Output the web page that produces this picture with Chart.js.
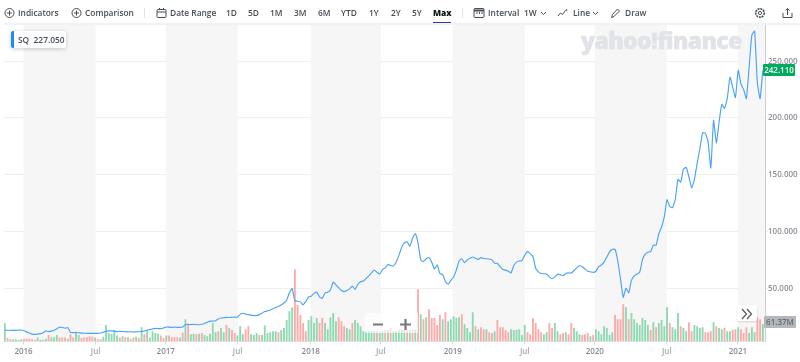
<!DOCTYPE html>
<html lang="en">
<head>
    <meta charset="UTF-8">
    <title>SQ - Yahoo Finance chart</title>
    <script src="https://cdn.jsdelivr.net/npm/chart.js@4.4.8/dist/chart.umd.min.js"></script>
    <style>
        html, body { margin: 0; padding: 0; background: #fff; overflow: hidden; }
        #wrap { position: relative; width: 800px; height: 362px; font-family: "Open Sans", sans-serif; color: #464e56; }
        #mainChart { position: absolute; left: 0; top: 0; }
        .tb { position: absolute; top: 7px; font-size: 8.4px; line-height: 12px; font-weight: 600; white-space: nowrap; }
        .tb.on { font-weight: 800; color: #101518; }
        .ic { position: absolute; top: 7px; }
        .sep { position: absolute; top: 8px; width: 1px; height: 10px; background: #e0e4e9; }
        #toolLine { position: absolute; left: 4px; right: 0; top: 23px; height: 2px; background: #f0f3f5; }
        #maxLine { position: absolute; left: 433px; top: 22px; width: 18px; height: 2px; background: #2a3f9d; }
        #quote { position: absolute; left: 11px; top: 31px; width: 55px; height: 17px; background: #fff; box-shadow: 0 1px 4px rgba(0,0,0,.2); border-radius: 2px; font-size: 8.4px; line-height: 17px; font-weight: 600; white-space: nowrap; }
        #quote i { position: absolute; left: 0; top: 0; width: 3px; height: 17px; background: #1e8cf5; border-radius: 2px 0 0 2px; }
        #quote span { position: absolute; left: 7px; }
        #logo { position: absolute; left: 581px; top: 24px; font-size: 23px; line-height: 32px; font-weight: 800; color: #e1e3e8; -webkit-text-stroke: .5px #e1e3e8; letter-spacing: -.6px; white-space: nowrap; }
        #lastTag { position: absolute; left: 763px; top: 64px; width: 32px; height: 12px; background: #00ab5e; color: #fff; font-size: 8px; line-height: 12px; font-weight: 600; text-align: center; border-radius: 1px; }
        #volTag { position: absolute; left: 764px; top: 316px; width: 32px; height: 12px; background: #b4b7bc; color: #666b72; font-size: 8px; line-height: 12px; font-weight: 600; text-align: center; border-radius: 1px; }
        #zoomBox { position: absolute; left: 365px; top: 313px; width: 53px; height: 20px; background: rgba(255,255,255,.62); }
        #zoomBox svg { position: absolute; left: 8px; top: 3px; }
        #nextBtn { position: absolute; left: 737px; top: 305px; width: 20px; height: 16px; background: #fff; box-shadow: 0 1px 2px rgba(0,0,0,.15); border-radius: 2px; }
    </style>
</head>
<body>
<div id="wrap">
    <canvas id="mainChart" width="800" height="362"></canvas>

    <!-- toolbar -->
    <svg class="ic" style="left:4px" width="11" height="12" viewBox="0 0 11 12" fill="none" stroke="#464e56"><circle cx="5.5" cy="6" r="4.5"/><path d="M3 6h5M5.5 3.5v5"/></svg>
    <div class="tb" style="left:18px">Indicators</div>
    <svg class="ic" style="left:71px" width="11" height="12" viewBox="0 0 11 12" fill="none" stroke="#464e56"><circle cx="5.5" cy="6" r="4.5"/><path d="M3 6h5M5.5 3.5v5"/></svg>
    <div class="tb" style="left:85px">Comparison</div>
    <div class="sep" style="left:144px"></div>
    <svg class="ic" style="left:156px" width="11" height="12" viewBox="0 0 11 12" fill="none" stroke="#464e56"><rect x="1" y="2.5" width="9" height="8" rx="1"/><path d="M1 5h9M3.5 1v2M7.5 1v2"/></svg>
    <div class="tb" style="left:170px">Date Range</div>
    <div class="tb" style="left:226px">1D</div>
    <div class="tb" style="left:248px">5D</div>
    <div class="tb" style="left:270px">1M</div>
    <div class="tb" style="left:294px">3M</div>
    <div class="tb" style="left:318px">6M</div>
    <div class="tb" style="left:341px">YTD</div>
    <div class="tb" style="left:369px">1Y</div>
    <div class="tb" style="left:391px">2Y</div>
    <div class="tb" style="left:412px">5Y</div>
    <div class="tb on" style="left:433px">Max</div>
    <div id="maxLine"></div>
    <div class="sep" style="left:462px"></div>
    <svg class="ic" style="left:473px" width="12" height="12" viewBox="0 0 12 12" fill="none" stroke="#464e56"><rect x="1" y="1.5" width="10" height="9" rx="1"/><path d="M1 3.5h10" stroke-width="2"/><path d="M4 5v2M6.5 5v2M9 5v2"/></svg>
    <div class="tb" style="left:488px">Interval</div>
    <div class="tb" style="left:524px">1W</div>
    <svg class="ic" style="left:540px" width="7" height="12" viewBox="0 0 7 12" fill="none" stroke="#464e56"><path d="M1 5l2.5 2.5L6 5"/></svg>
    <svg class="ic" style="left:557px" width="11" height="12" viewBox="0 0 11 12" fill="none" stroke="#464e56"><path d="M1 9l2.5-3 2 1.5 3-4"/><circle cx="9.5" cy="3" r=".5"/></svg>
    <div class="tb" style="left:573px">Line</div>
    <svg class="ic" style="left:592px" width="7" height="12" viewBox="0 0 7 12" fill="none" stroke="#464e56"><path d="M1 5l2.5 2.5L6 5"/></svg>
    <svg class="ic" style="left:610px" width="11" height="12" viewBox="0 0 11 12" fill="none" stroke="#464e56"><path d="M1.5 10.5l1-3 5-5.5 2 2-5.5 5.5z"/></svg>
    <div class="tb" style="left:625px">Draw</div>
    <svg class="ic" style="left:754px" width="12" height="12" viewBox="0 0 12 12" fill="none" stroke="#464e56"><circle cx="6" cy="6" r="4.2" stroke-dasharray="2 .8" stroke-width="1.6"/><circle cx="6" cy="6" r="1.6"/></svg>
    <svg class="ic" style="left:782px" width="11" height="12" viewBox="0 0 11 12" fill="none" stroke="#464e56"><path d="M1 6v4.5h9V6M5.5 8V1.5M3.5 3.5l2-2 2 2"/></svg>
    <div id="toolLine"></div>

    <div id="logo">yahoo!finance</div>
    <div id="quote"><i></i><span>SQ&nbsp; 227.050</span></div>
    <div id="lastTag">242.110</div>
    <div id="volTag">61.37M</div>
    <div id="zoomBox"><svg width="40" height="14" viewBox="0 0 40 14" fill="none" stroke="#77797d" stroke-width="2.2"><path d="M0 8.5h10M27 8.5h11M32.5 3v11"/></svg></div>
    <div id="nextBtn"><svg width="20" height="16" viewBox="0 0 20 16" fill="none" stroke="#55585d" stroke-width="1.2"><path d="M5 3l4.5 5L5 13M10 3l4.5 5L10 13"/></svg></div>
</div>

<script>
    // weekly close, 278 weeks from Nov 2015
    const prices = [
        13.2, 13.0, 13.0, 12.9, 12.9, 13.1, 13.2, 12.6, 11.6, 10.6,
        9.6, 9.4, 9.6, 10.0, 10.8, 12.4, 11.8, 12.2, 13.0, 14.4,
        15.7, 15.4, 14.8, 15.3, 11.2, 10.9, 11.0, 10.8, 10.5, 10.4,
        10.3, 10.3, 10.2, 10.2, 10.3, 10.6, 11.3, 12.1, 12.4, 12.5,
        12.2, 11.8, 12.0, 11.9, 11.7, 11.6, 11.7, 11.5, 11.6, 11.7,
        11.9, 12.4, 13.0, 13.6, 14.2, 14.7, 14.5, 14.4, 15.0, 15.9,
        15.7, 15.6, 15.8, 15.6, 15.5, 15.8, 18.0, 18.2, 18.0, 18.2,
        17.9, 17.9, 18.3, 19.0, 20.0, 21.0, 21.0, 21.4, 23.0, 23.8,
        24.0, 24.3, 24.2, 24.4, 24.6, 24.5, 27.0, 28.0, 27.2, 26.8,
        26.3, 26.0, 26.0, 26.8, 28.0, 29.5, 30.0, 30.8, 32.0, 33.0,
        34.0, 35.2, 37.0, 39.5, 46.0, 49.8, 39.0, 38.6, 38.0, 35.4,
        38.5, 42.3, 43.0, 45.5, 46.5, 42.5, 41.0, 45.8, 46.5, 48.5,
        55.5, 53.0, 50.5, 48.0, 47.0, 48.0, 49.5, 52.0, 49.0, 53.5,
        55.8, 56.4, 58.5, 61.0, 63.5, 66.0, 64.0, 62.5, 66.5, 68.0,
        71.0, 70.0, 69.5, 73.0, 79.0, 86.0, 90.0, 91.0, 87.0, 94.0,
        98.0, 90.0, 75.0, 73.5, 76.0, 77.0, 73.0, 67.0, 70.5, 63.0,
        62.0, 56.0, 53.5, 57.0, 60.0, 66.0, 74.0, 76.0, 72.5, 75.0,
        76.5, 77.5, 76.5, 75.5, 77.0, 76.2, 76.0, 75.8, 75.0, 72.0,
        72.0, 69.0, 66.5, 66.0, 65.0, 63.5, 70.0, 73.0, 74.0, 74.4,
        79.0, 82.5, 80.5, 78.0, 67.6, 64.5, 63.0, 62.8, 62.6, 60.0,
        58.4, 60.0, 62.4, 62.0, 61.0, 63.0, 63.5, 63.4, 65.5, 68.0,
        69.8, 69.0, 67.0, 65.0, 64.5, 64.0, 65.0, 69.0, 70.5, 73.0,
        77.5, 82.0, 84.3, 84.3, 74.0, 58.0, 42.0, 50.0, 46.0, 57.0,
        61.0, 62.5, 64.0, 75.0, 80.0, 81.8, 82.2, 88.0, 88.0, 98.0,
        104.0, 113.0, 128.0, 122.0, 121.0, 128.0, 146.0, 143.5, 155.0, 156.5,
        148.0, 138.5, 146.0, 160.0, 173.0, 187.0, 186.5, 179.0, 156.0, 198.0,
        178.0, 196.0, 212.0, 208.5, 217.0, 236.0, 227.0, 218.0, 242.0, 230.0,
        225.0, 217.0, 245.0, 273.0, 276.6, 231.0, 217.0, 242.11
    ];

    // weekly volume in millions
    const volumes = [
        65, 12, 7, 7, 7, 4, 7, 9, 9, 9,
        7, 5, 13, 5, 5, 9, 22, 13, 14, 22,
        13, 13, 13, 9, 25, 13, 34, 22, 11, 13,
        14, 18, 16, 13, 7, 7, 16, 58, 29, 27,
        40, 20, 13, 18, 14, 14, 9, 13, 16, 11,
        50, 25, 36, 13, 36, 29, 27, 20, 11, 20,
        20, 14, 14, 14, 13, 31, 79, 58, 25, 27,
        25, 27, 29, 22, 18, 27, 65, 32, 36, 47,
        32, 58, 47, 40, 29, 20, 54, 25, 43, 54,
        25, 22, 29, 22, 22, 56, 29, 32, 36, 36,
        32, 40, 47, 76, 108, 122, 259, 130, 94, 65,
        36, 76, 90, 65, 83, 65, 83, 65, 43, 86,
        101, 72, 86, 72, 54, 47, 43, 65, 76, 65,
        54, 36, 36, 36, 36, 36, 36, 32, 36, 40,
        40, 47, 36, 36, 40, 40, 40, 40, 40, 40,
        43, 187, 97, 79, 86, 115, 83, 83, 58, 94,
        79, 104, 72, 79, 90, 83, 86, 97, 61, 47,
        32, 104, 54, 43, 50, 43, 43, 32, 29, 36,
        76, 50, 50, 40, 32, 43, 40, 40, 43, 22,
        58, 32, 25, 83, 65, 43, 32, 25, 32, 65,
        47, 65, 36, 25, 29, 32, 25, 65, 47, 36,
        25, 22, 25, 29, 18, 22, 43, 36, 25, 54,
        47, 22, 32, 94, 79, 79, 133, 122, 79, 101,
        79, 65, 58, 83, 76, 58, 40, 68, 50, 65,
        76, 54, 122, 65, 50, 43, 101, 54, 47, 36,
        68, 36, 58, 54, 47, 50, 32, 32, 36, 68,
        54, 47, 43, 47, 36, 36, 40, 43, 50, 43,
        29, 50, 29, 50, 32, 86, 79, 61.37
    ];

    // g = up week, r = down week
    const volumeSides = (
        'grrggggrrr' + 'rrggggrggg' + 'rrrgrrggrr' + 'rrrgrrgggg' + 'ggrgrgrrgr' +
        'grgggggrrg' + 'rrrrgrgrgg' + 'rgrgggggrg' + 'grgrrgggrr' + 'gggrgggggg' +
        'rgggggrrrr' + 'rggggrrggg' + 'ggrrrggrgg' + 'ggggggrggr' + 'grgggggrgr' +
        'grgrgrrrrr' + 'grgggggrgg' + 'ggrgrrgrrg' + 'rrrrrggggg' + 'grrrrrrggr' +
        'rggrrgrrgg' + 'grrrgrgggg' + 'gggrrrrgrg' + 'ggggggrgrg' + 'gggrgggrgg' +
        'rrggggrrrg' + 'rggrggrrgr' + 'rrgggrrg'
    ).split('');

    const yTicks = [50, 100, 150, 200, 250];
    const xTickWeeks = [6.84, 33.2, 58.8, 85.1, 111.8, 137.4, 163.7, 190, 215.6, 241.9, 267.9];
    const xTickLabels = ['2016', 'Jul', '2017', 'Jul', '2018', 'Jul', '2019', 'Jul', '2020', 'Jul', '2021'];
    const shadedFrom = [6.84, 58.8, 111.8, 163.7, 215.6, 267.9];
    const shadedTo = [33.2, 85.1, 137.4, 190, 241.9, 278];

    // grey half year bands behind the data
    const bandPlugin = {
        id: 'bands',
        beforeDatasetsDraw(chart) {
            const { ctx, chartArea, scales } = chart;
            ctx.save();
            ctx.fillStyle = '#f6f6f6';
            shadedFrom.forEach((from, i) => {
                const x1 = scales.x.getPixelForValue(from);
                const x2 = Math.min(scales.x.getPixelForValue(shadedTo[i]), chartArea.right);
                ctx.fillRect(x1, chartArea.top, x2 - x1, chartArea.bottom - chartArea.top);
            });
            ctx.restore();
        }
    };

    const ctx = document.getElementById('mainChart').getContext('2d');
    const mainChart = new Chart(ctx, {
        type: 'bar',
        plugins: [bandPlugin],
        data: {
            datasets: [
                {
                    type: 'line',
                    label: 'SQ',
                    data: prices.map((v, i) => ({ x: i, y: v })),
                    borderColor: '#4aa3f8',
                    borderWidth: 1.15,
                    pointRadius: 0,
                    tension: 0.15,
                    yAxisID: 'y',
                    order: 1
                },
                {
                    type: 'bar',
                    label: 'Volume',
                    data: volumes.map((v, i) => ({ x: i, y: v })),
                    backgroundColor: volumeSides.map(s => s === 'g' ? '#8fd8b2' : '#ffa9a9'),
                    barThickness: 1.2,
                    yAxisID: 'yVol',
                    order: 2
                }
            ]
        },
        options: {
            responsive: false,
            animation: false,
            layout: { padding: { left: 4, top: 24, right: 0, bottom: 0 } },
            plugins: { legend: { display: false }, tooltip: { enabled: false } },
            scales: {
                x: {
                    type: 'linear',
                    offset: false,
                    min: -0.3,
                    max: 277.8,
                    afterBuildTicks(axis) { axis.ticks = xTickWeeks.map(v => ({ value: v })); },
                    afterFit(axis) { axis.height = 20.5; },
                    grid: { drawOnChartArea: false, offset: false, color: '#d8d8d8', tickLength: 3 },
                    border: { color: '#e6e6e6' },
                    ticks: {
                        autoSkip: false,
                        maxRotation: 0,
                        padding: 2,
                        font: { family: 'Open Sans', size: 8, weight: '600' },
                        color: c => xTickLabels[c.index] === 'Jul' ? '#a6a9ae' : '#858a91',
                        callback: (v, i) => xTickLabels[i]
                    }
                },
                y: {
                    position: 'right',
                    min: 3.1,
                    max: 282.8,
                    afterBuildTicks(axis) { axis.ticks = yTicks.map(v => ({ value: v })); },
                    afterFit(axis) { axis.width = 35; },
                    grid: { color: '#efefef', tickLength: 3 },
                    border: { color: '#cfcfcf' },
                    ticks: {
                        padding: 0,
                        font: { family: 'Open Sans', size: 8, weight: '600' },
                        color: '#8b8f96',
                        callback: v => v.toFixed(3)
                    }
                },
                yVol: {
                    display: false,
                    min: 0,
                    max: 1143
                }
            }
        }
    });
</script>
</body>
</html>
